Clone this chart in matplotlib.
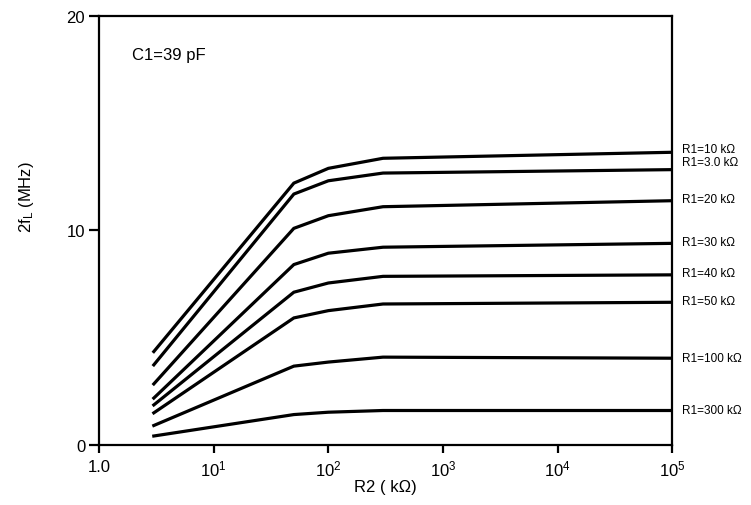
import matplotlib
matplotlib.use('Agg')
from matplotlib import pyplot as plt
from matplotlib.ticker import FixedLocator, FixedFormatter, NullLocator

plt.rcParams['font.family'] = ['Liberation Sans', 'DejaVu Sans']
plt.rcParams['mathtext.fontset'] = 'custom'
plt.rcParams['mathtext.rm'] = 'Liberation Sans'
plt.rcParams['mathtext.it'] = 'Liberation Sans'

# R2 values (kOhm) where the curves bend
r2_values = [3, 50, 100, 300, 100000]

# 2fL (MHz) for each R1 curve
r1_labels = ['R1=10 k\u03a9', 'R1=3.0 k\u03a9', 'R1=20 k\u03a9', 'R1=30 k\u03a9',
             'R1=40 k\u03a9', 'R1=50 k\u03a9', 'R1=100 k\u03a9', 'R1=300 k\u03a9']
r1_10k = [4.35, 12.21, 12.90, 13.37, 13.65]
r1_3k = [3.73, 11.70, 12.32, 12.68, 12.84]
r1_20k = [2.84, 10.10, 10.69, 11.11, 11.39]
r1_30k = [2.18, 8.41, 8.94, 9.22, 9.40]
r1_40k = [1.86, 7.12, 7.55, 7.86, 7.93]
r1_50k = [1.49, 5.92, 6.26, 6.57, 6.65]
r1_100k = [0.90, 3.67, 3.86, 4.09, 4.04]
r1_300k = [0.41, 1.41, 1.52, 1.60, 1.60]
all_curves = [r1_10k, r1_3k, r1_20k, r1_30k, r1_40k, r1_50k, r1_100k, r1_300k]

x_ticks = [1, 10, 100, 1000, 10000, 100000]
x_tick_labels = ['1.0', r'$\mathregular{10^1}$', r'$\mathregular{10^2}$',
                 r'$\mathregular{10^3}$', r'$\mathregular{10^4}$', r'$\mathregular{10^5}$']
y_ticks = [0, 10, 20]

fig = plt.figure(figsize=(7.51, 5.06), dpi=100)
ax = fig.add_axes([0.132, 0.119, 0.763, 0.847])

for curve in all_curves:
    ax.plot(r2_values, curve, color='black', linewidth=2.3, solid_joinstyle='miter')

# labels at the right end of each line (the two top ones pushed apart)
label_nudge = [2.5, 5.5, 1.5, 1, 1, 1, 0, 0]
for lab, curve, dy in zip(r1_labels, all_curves, label_nudge):
    ax.annotate(lab, xy=(r2_values[-1], curve[-1]), xytext=(7, dy),
                textcoords='offset points', va='center', ha='left',
                fontsize=8.5, annotation_clip=False)

ax.set_xscale('log')
ax.set_xlim(1, 100000)
ax.set_ylim(0, 20)
ax.xaxis.set_major_locator(FixedLocator(x_ticks))
ax.xaxis.set_major_formatter(FixedFormatter(x_tick_labels))
ax.xaxis.set_minor_locator(NullLocator())
ax.set_yticks(y_ticks)

for s in ax.spines.values():
    s.set_linewidth(1.6)
ax.tick_params(axis='both', direction='out', width=1.6, labelsize=12)
ax.tick_params(axis='x', length=6, pad=4)
ax.tick_params(axis='y', length=7, pad=3)

ax.text(0.058, 0.911, 'C1=39 pF', transform=ax.transAxes, fontsize=12, va='center')

ax.set_xlabel('R2 ( k\u03a9)', fontsize=12, labelpad=0)
ax.set_ylabel(r'2f$_\mathregular{L}$ (MHz)', fontsize=12)
ax.yaxis.set_label_coords(-0.11, 0.58)

plt.savefig('out.png', dpi=100)
